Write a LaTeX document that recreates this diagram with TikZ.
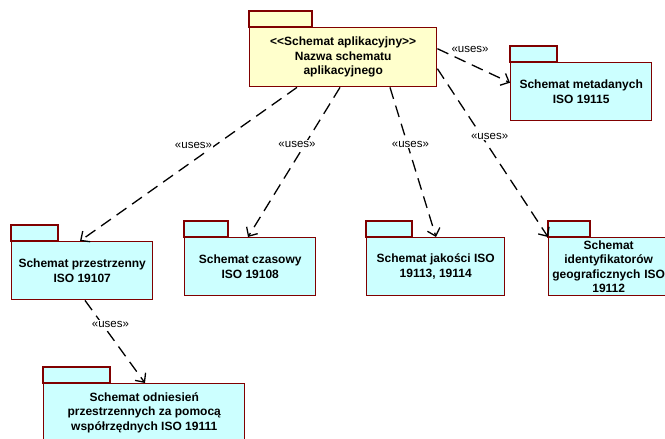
\documentclass[tikz,border=0pt]{standalone}
\usepackage{fontspec}
\setmainfont{Liberation Sans}
\usetikzlibrary{arrows.meta}
\definecolor{pkgborder}{RGB}{128,0,0}
\definecolor{pkgyellow}{RGB}{255,255,204}
\definecolor{pkgcyan}{RGB}{204,255,255}
\tikzset{
  pkgbody/.style={draw=pkgborder, line width=1.4pt, rectangle, anchor=north west,
    align=center, inner sep=0pt, font=\fontsize{12}{14.5}\selectfont\bfseries},
  yellowpkg/.style={pkgbody, fill=pkgyellow},
  cyanpkg/.style={pkgbody, fill=pkgcyan},
  pkgtab/.style={draw=pkgborder, line width=1.4pt},
  uses/.style={draw=black, line width=1.3pt, dash pattern=on 12pt off 7pt,
    -{Straight Barb[length=7pt,width=13pt,line width=1.3pt]}},
  useslabel/.style={fill=white, inner sep=1pt, font=\fontsize{11.5}{13}\selectfont},
}
\begin{document}
\begin{tikzpicture}[x=1pt,y=-1pt]
\useasboundingbox (0,0) rectangle (665,439);
\clip (0,0) rectangle (665,439);
% tabs
\filldraw[pkgtab, fill=pkgyellow] (249,11) rectangle (312,27);
\filldraw[pkgtab, fill=pkgcyan] (510,46) rectangle (557,62);
\filldraw[pkgtab, fill=pkgcyan] (11,225) rectangle (58,241);
\filldraw[pkgtab, fill=pkgcyan] (184,221) rectangle (228,237);
\filldraw[pkgtab, fill=pkgcyan] (366,221) rectangle (412,237);
\filldraw[pkgtab, fill=pkgcyan] (548,221) rectangle (590,237);
\filldraw[pkgtab, fill=pkgcyan] (43,367) rectangle (110,383);
% nodes
\node[yellowpkg, minimum width=187pt, minimum height=59pt] (app) at (249,27)
  {<\kern0pt<Schemat aplikacyjny>\kern0pt>\\Nazwa schematu\\aplikacyjnego};
\node[cyanpkg, minimum width=141pt, minimum height=58pt] (meta) at (510,62)
  {Schemat metadanych\\ISO 19115};
\node[cyanpkg, minimum width=141pt, minimum height=58pt] (prz) at (11,241)
  {Schemat przestrzenny\\ISO 19107};
\node[cyanpkg, minimum width=131pt, minimum height=58pt] (czas) at (184,237)
  {Schemat czasowy\\ISO 19108};
\node[cyanpkg, minimum width=138pt, minimum height=58pt] (jak) at (366,237)
  {Schemat jakości ISO\\19113, 19114};
\node[cyanpkg, minimum width=120pt, minimum height=58pt, text width=120pt] (ident) at (548,237)
  {Schemat\\identyfikatorów\\geograficznych ISO\\19112};
\node[cyanpkg, minimum width=201pt, minimum height=58pt] (odn) at (43,383)
  {Schemat odniesień\\przestrzennych za pomocą\\współrzędnych ISO 19111};
% connectors
\draw[uses] ([yshift=8.5pt]app.east) -- node[useslabel, pos=0.45, yshift=15pt] {«uses»} ([yshift=9pt]meta.west);
\draw[uses] ([xshift=48pt]app.south west) -- node[useslabel, pos=0.38, xshift=-21pt] {«uses»} ([xshift=69pt]prz.north west);
\draw[uses] ([xshift=91pt]app.south west) -- node[useslabel, pos=0.38, xshift=-8pt] {«uses»} ([xshift=64pt]czas.north west);
\draw[uses] ([xshift=141pt]app.south west) -- node[useslabel, pos=0.38, xshift=3pt] {«uses»} ([xshift=70pt]jak.north west);
\draw[uses] ([yshift=-11.5pt]app.east) -- node[useslabel, pos=0.40, xshift=8pt] {«uses»} (ident.north west);
\draw[uses] ([xshift=74pt]prz.south west) -- node[useslabel, pos=0.29, xshift=8pt] {«uses»} ([xshift=102pt]odn.north west);
\end{tikzpicture}
\end{document}
